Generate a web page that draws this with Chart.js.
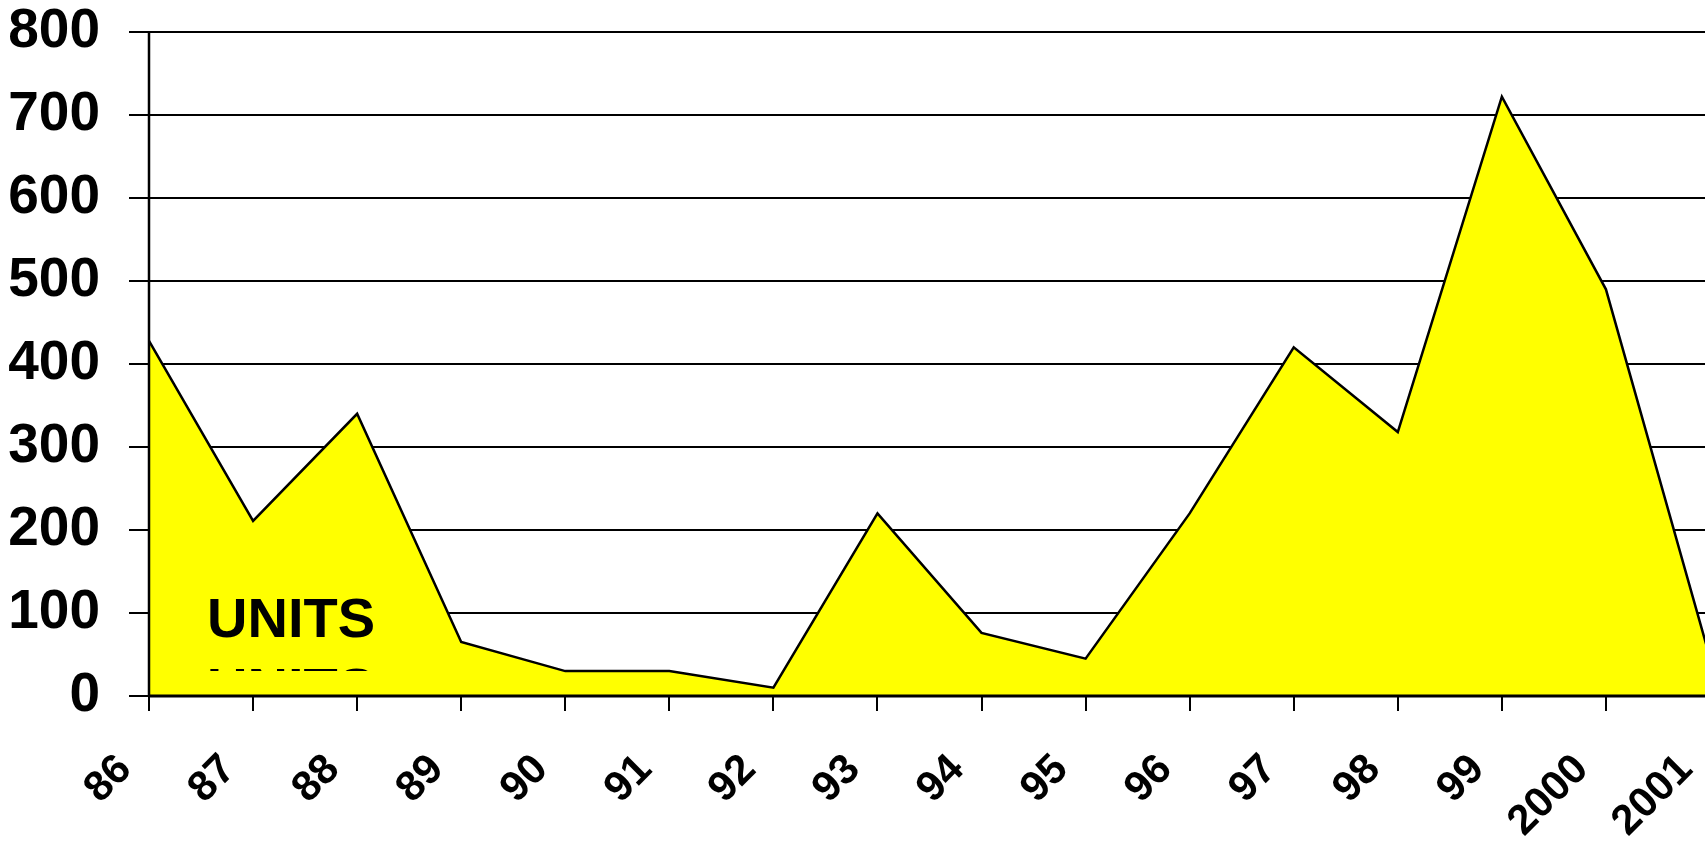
<!DOCTYPE html>
<html lang="en">
<head>
<meta charset="UTF-8">
<title>Units per year</title>
<script src="https://cdn.jsdelivr.net/npm/chart.js"></script>
<style>
  html, body { margin: 0; padding: 0; background: #fff; overflow: hidden; }
  #wrap { width: 1710px; height: 841px; }
</style>
</head>
<body>
<div id="wrap"><canvas id="unitsChart" width="1710" height="841"></canvas></div>
<script>
// yearly units, 1986 - 2001
const years = ['86', '87', '88', '89', '90', '91', '92', '93', '94', '95', '96', '97', '98', '99', '2000', '2001'];
const units = [428, 211, 340, 65, 30, 30, 10, 220, 76, 45, 220, 420, 318, 722, 490, 46];
const yTicks = [0, 100, 200, 300, 400, 500, 600, 700, 800];
const seriesName = 'UNITS';

Chart.defaults.font.family = "'Liberation Sans', Arial, sans-serif";
Chart.defaults.color = '#000';

// axis lines go on top of the yellow area, the grid stays under it
const axisLines = {
  id: 'axisLines',
  afterDatasetsDraw(chart) {
    const { ctx, chartArea: a } = chart;
    ctx.save();
    ctx.strokeStyle = '#000';
    ctx.lineWidth = 2.5;
    ctx.beginPath();
    ctx.moveTo(a.left, a.top);
    ctx.lineTo(a.left, a.bottom);
    ctx.stroke();
    ctx.lineWidth = 3;
    ctx.beginPath();
    ctx.moveTo(a.left, a.bottom);
    ctx.lineTo(a.right, a.bottom);
    ctx.stroke();
    ctx.restore();
  }
};

// series name written inside the area, second line cut off
const seriesTag = {
  id: 'seriesTag',
  afterDatasetsDraw(chart) {
    const { ctx, chartArea: a } = chart;
    const x = a.left + 58;
    const y = a.bottom - 59;
    ctx.save();
    ctx.fillStyle = '#000';
    ctx.font = "bold 56px 'Liberation Sans', Arial, sans-serif";
    ctx.textBaseline = 'alphabetic';
    ctx.fillText(seriesName, x, y);
    ctx.beginPath();
    ctx.rect(a.left, a.top, a.right - a.left, a.bottom - 25 - a.top);
    ctx.clip();
    ctx.fillText(seriesName, x, y + 70);
    ctx.restore();
  }
};

new Chart(document.getElementById('unitsChart'), {
  type: 'line',
  data: {
    labels: years,
    datasets: [{
      label: seriesName,
      data: units,
      borderColor: '#000',
      borderWidth: 2.5,
      backgroundColor: '#ffff00',
      fill: 'origin',
      tension: 0,
      pointRadius: 0
    }]
  },
  options: {
    responsive: false,
    animation: false,
    devicePixelRatio: 1,
    layout: { padding: { top: 32, left: 0, right: 0, bottom: 0 } },
    plugins: {
      legend: { display: false },
      tooltip: { enabled: false }
    },
    scales: {
      x: {
        offset: false,
        border: { display: false },
        grid: {
          drawOnChartArea: false,
          drawTicks: true,
          tickLength: 15,
          color: '#000',
          lineWidth: 2
        },
        ticks: {
          font: { size: 42, weight: 'bold' },
          minRotation: 45,
          maxRotation: 45,
          padding: 34,
          labelOffset: -24,
          autoSkip: false
        },
        afterFit(scale) {
          scale.height = 145;
          scale.paddingLeft = 0;
          scale.paddingRight = 0;
        }
      },
      y: {
        min: 0,
        max: 800,
        border: { display: false },
        grid: {
          color: '#000',
          lineWidth: 2,
          drawTicks: true,
          tickLength: 20
        },
        ticks: {
          font: { size: 55, weight: 'bold' },
          padding: 29
        },
        afterBuildTicks(scale) {
          scale.ticks = yTicks.map(v => ({ value: v }));
        },
        afterFit(scale) {
          scale.width = 149;
          scale.paddingTop = 0;
          scale.paddingBottom = 0;
        }
      }
    }
  },
  plugins: [axisLines, seriesTag]
});
</script>
</body>
</html>
